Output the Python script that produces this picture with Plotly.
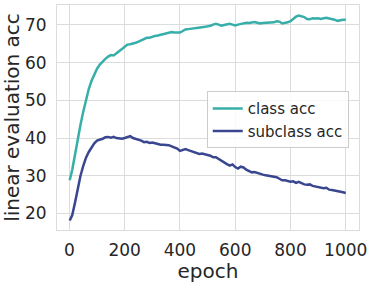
import plotly.graph_objects as go

epochs = [1] + list(range(10, 1001, 10))

class_acc = [
    28.8, 31.5, 35.5, 39.8, 43.5, 47.0, 50.3, 53.0, 55.2, 57.0,
    58.4, 59.5, 60.4, 61.0, 61.6, 62.0, 61.9, 62.4, 63.1, 63.6,
    64.2, 64.8, 64.9, 65.0, 65.3, 65.6, 65.9, 66.3, 66.6, 66.6,
    66.9, 67.1, 67.2, 67.4, 67.6, 67.8, 68.0, 68.1, 68.0, 68.1,
    68.0, 68.4, 68.8, 68.9, 68.9, 69.1, 69.2, 69.4, 69.4, 69.5,
    69.6, 69.8, 70.1, 70.3, 70.1, 69.8, 70.0, 70.2, 70.3, 70.1,
    69.9, 70.1, 70.2, 70.4, 70.6, 70.5, 70.7, 70.8, 70.6, 70.4,
    70.5, 70.5, 70.5, 70.6, 70.7, 71.0, 70.9, 70.4, 70.5, 70.7,
    71.0, 71.6, 72.2, 72.5, 72.3, 72.1, 71.6, 71.5, 71.8, 71.7,
    71.8, 71.6, 71.8, 71.9, 71.7, 71.6, 71.4, 71.1, 71.3, 71.4,
    71.4,
]

subclass_acc = [
    18.1, 19.5, 22.8, 26.8, 30.0, 32.6, 34.8, 36.3, 37.6, 38.6,
    39.3, 39.5, 39.8, 40.2, 40.3, 40.1, 40.3, 40.0, 39.9, 39.8,
    40.0, 40.2, 40.5, 40.0, 39.8, 39.5, 39.3, 38.9, 39.0, 38.7,
    38.8, 38.6, 38.3, 38.2, 38.2, 38.2, 38.1, 37.8, 37.5, 37.2,
    36.6, 36.8, 37.1, 36.8, 36.6, 36.3, 36.0, 35.8, 35.9, 35.6,
    35.5, 35.3, 34.9, 34.9, 34.4, 34.0, 33.6, 33.1, 32.7, 33.0,
    32.3, 31.9, 32.4, 32.2, 31.6, 31.2, 30.9, 31.0, 30.7, 30.5,
    30.3, 30.1, 30.0, 29.9, 29.8, 29.6, 29.2, 28.8, 28.8, 28.5,
    28.4, 28.5, 28.1, 28.4, 28.0, 27.7, 27.6, 27.7, 27.3, 27.1,
    26.9, 26.7, 26.7, 26.8, 26.3, 26.2, 26.1, 26.0, 25.8, 25.6,
    25.4,
]

x_ticks = [0, 200, 400, 600, 800, 1000]
y_ticks = [20, 30, 40, 50, 60, 70]

TEXT = "#262626"
GRID = "#dcdcdc"

fig = go.Figure()
fig.add_trace(
    go.Scatter(
        x=epochs,
        y=class_acc,
        mode="lines",
        name="class acc",
        line=dict(color="#37aea9", width=2.5),
    )
)
fig.add_trace(
    go.Scatter(
        x=epochs,
        y=subclass_acc,
        mode="lines",
        name="subclass acc",
        line=dict(color="#3a4790", width=2.5),
    )
)

fig.update_layout(
    width=374,
    height=283,
    margin=dict(l=57, r=15, t=5, b=53),
    paper_bgcolor="white",
    plot_bgcolor="white",
    font=dict(family="DejaVu Sans", color=TEXT, size=17),
    legend=dict(
        x=0.966,
        y=0.49,
        xanchor="right",
        yanchor="middle",
        bgcolor="rgba(255,255,255,0.85)",
        bordercolor="#cccccc",
        borderwidth=1,
        font=dict(size=15, color=TEXT),
        tracegroupgap=0,
        itemwidth=30,
    ),
    showlegend=True,
)
fig.update_xaxes(
    range=[-45, 1048],
    tickvals=x_ticks,
    showgrid=True,
    gridcolor=GRID,
    showline=True,
    linecolor=GRID,
    mirror=True,
    zeroline=False,
    ticklabelstandoff=5,
    title=dict(text="epoch", font=dict(size=20), standoff=0),
    automargin=False,
)
fig.update_yaxes(
    range=[15.6, 75.3],
    tickvals=y_ticks,
    showgrid=True,
    gridcolor=GRID,
    showline=True,
    linecolor=GRID,
    mirror=True,
    zeroline=False,
    ticklabelstandoff=6,
    title=dict(text="linear evaluation acc", font=dict(size=20), standoff=3),
    automargin=False,
)

fig.write_html(
    "out.html",
    config={"displayModeBar": False},
    post_script="document.body.style.margin='0';",
)
